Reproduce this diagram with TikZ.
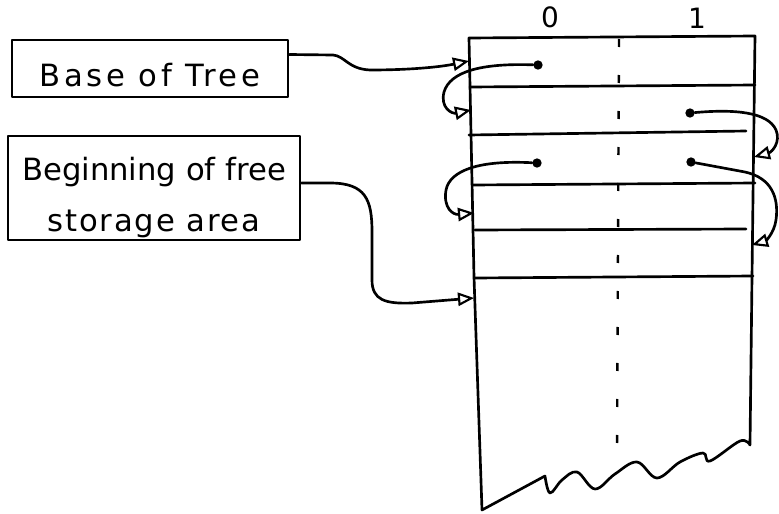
\documentclass[tikz,border=0pt]{standalone}
\usepackage{fontspec}
\setmainfont{DejaVu Sans}
\newfontfamily\widehand[LetterSpace=12]{DejaVu Sans}
\newfontfamily\semihand[LetterSpace=6]{DejaVu Sans}
\usetikzlibrary{arrows.meta}
\begin{document}
\begin{tikzpicture}[x=0.75pt,y=-0.75pt,
  pen/.style={line width=2pt, line cap=round, line join=round},
  ptr/.style={pen, -{Triangle[open,length=12pt,width=10pt,line width=1.6pt]}},
  dotmark/.style={circle, fill, inner sep=0pt, minimum size=7pt},
  labelbox/.style={draw, pen, inner sep=0pt, font=\fontsize{23}{38}\selectfont},
  collabel/.style={font=\fontsize{21}{24}\selectfont, inner sep=0pt}]
\useasboundingbox (0,0) rectangle (779,514);

% label boxes
\node[labelbox, minimum width=207pt, minimum height=42.75pt,
      text height=27pt, text depth=0pt] (base) at (150,68.5) {\widehand Base of Tree};
\node[labelbox, minimum width=219pt, minimum height=78pt, align=center]
      (free) at (154,188) {\rule{0pt}{32pt}Beginning of free\\{\semihand storage area}};

% column labels
\node[collabel] (c0) at (550,17) {0};
\node[collabel] (c1) at (697,18) {1};

% storage table outline with torn bottom
\draw[pen] (469,38) -- (755,36) -- (752,277) -- (750,445)
  -- plot[smooth, tension=0.6] coordinates {(750,445) (740,441) (710,461) (703,453)
     (680,462) (657,478) (637,462) (615,474) (595,489) (577,472) (562,480) (550,493) (545,476)}
  -- (482,510) -- (474,277) -- cycle;

% row separators
\draw[pen] (470,87) -- (755,85);
\draw[pen] (469,135) -- (746,131);
\draw[pen] (473,185) -- (755,183);
\draw[pen] (475,230) -- (746,229);
\draw[pen] (475,278) -- (753,276);

% column divider
\draw[line width=1.8pt, dash pattern=on 6pt off 21pt] (619,39) -- (617,452);

% pointer dots
\node[dotmark] (d1) at (538,65) {};
\node[dotmark] (d2) at (690,113) {};
\node[dotmark] (d3) at (537,163) {};
\node[dotmark] (d4) at (691,162) {};

% arrow targets on table edges
\coordinate (e1) at (469,61);
\coordinate (e2) at (471,110);
\coordinate (e3) at (754,157);
\coordinate (e4) at (474,213);
\coordinate (e5) at (752,245);
\coordinate (e6) at (474,298);

% connectors
\draw[ptr] ([yshift=10.5pt]base.east) -- (333,55)
  .. controls (345,56) and (348,69) .. (370,70)
  .. controls (410,70) and (440,67) .. (e1);
\draw[ptr] ([yshift=3.75pt]free.east) -- (330,183)
  .. controls (366,183) and (372,200) .. (372,232) -- (372,280)
  .. controls (372,300) and (385,304) .. (412,303) -- (e6);
\draw[ptr] (d1) .. controls (480,63) and (450,72) .. (444,92)
  .. controls (440,108) and (452,114) .. (e2);
\draw[ptr] (d3) .. controls (480,160) and (450,170) .. (446,190)
  .. controls (443,208) and (453,215) .. (e4);
\draw[ptr] (d2) .. controls (735,109) and (768,112) .. (776,130)
  .. controls (781,142) and (772,152) .. (e3);
\draw[ptr] (d4) -- (745,172) .. controls (772,178) and (779,198) .. (776,220)
  .. controls (774,234) and (765,241) .. (e5);
\end{tikzpicture}
\end{document}
